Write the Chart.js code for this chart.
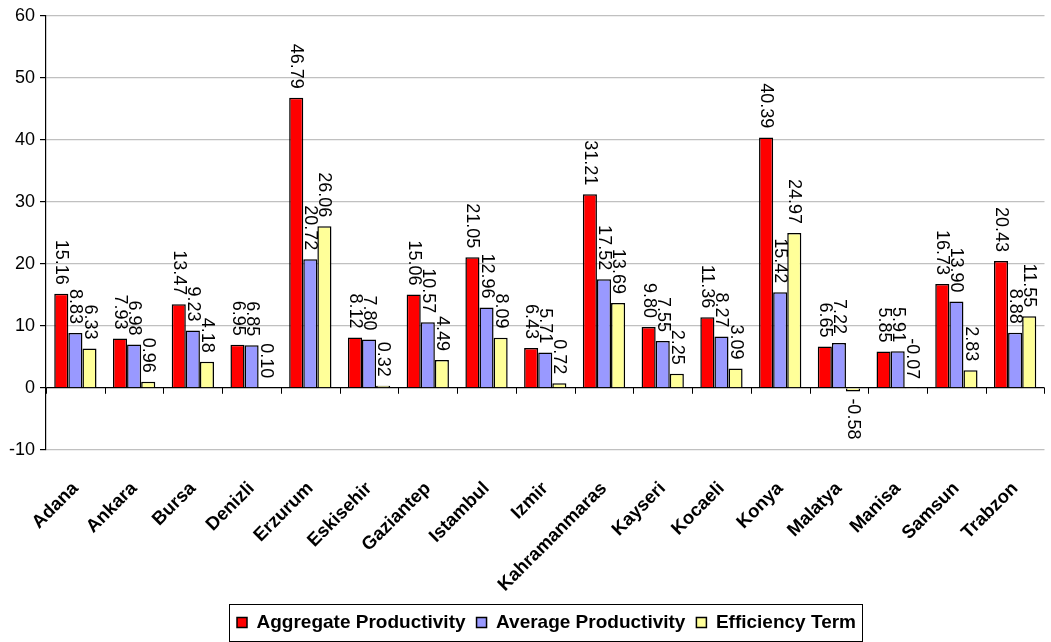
<!DOCTYPE html>
<html>
<head>
<meta charset="utf-8">
<script src="https://cdn.jsdelivr.net/npm/chart.js@4"></script>
<style>
  html, body { margin: 0; padding: 0; background: #fff; }
  #wrap { width: 1051px; height: 642px; }
</style>
</head>
<body>
<div id="wrap"><canvas id="chart" width="1051" height="642"></canvas></div>
<script>
// Data
const cities = ['Adana', 'Ankara', 'Bursa', 'Denizli', 'Erzurum', 'Eskisehir', 'Gaziantep', 'Istambul', 'Izmir',
    'Kahramanmaras', 'Kayseri', 'Kocaeli', 'Konya', 'Malatya', 'Manisa', 'Samsun', 'Trabzon'];
const aggregateProductivity = [15.16, 7.93, 13.47, 6.95, 46.79, 8.12, 15.06, 21.05, 6.43, 31.21, 9.80, 11.36, 40.39, 6.65, 5.85, 16.73, 20.43];
const averageProductivity = [8.83, 6.98, 9.23, 6.85, 20.72, 7.80, 10.57, 12.96, 5.71, 17.52, 7.55, 8.27, 15.42, 7.22, 5.91, 13.90, 8.88];
const efficiencyTerm = [6.33, 0.96, 4.18, 0.10, 26.06, 0.32, 4.49, 8.09, 0.72, 13.69, 2.25, 3.09, 24.97, -0.58, -0.07, 2.83, 11.55];
const yTicks = [-10, 0, 10, 20, 30, 40, 50, 60];

const FONT = '"Liberation Sans", Arial, sans-serif';
const LEGEND_SHIFT = 22; // legend sits a bit right of centre in the original

// Rotated value labels above (or below) each bar, plus x tick marks on the zero line
const barLabels = {
    id: 'barLabels',
    afterLayout(chart) {
        const lg = chart.legend;
        lg.left += LEGEND_SHIFT;
        lg.right += LEGEND_SHIFT;
        lg.legendHitBoxes.forEach(b => { b.left += LEGEND_SHIFT; });
    },
    afterDatasetsDraw(chart) {
        const ctx = chart.ctx;
        ctx.save();
        ctx.font = '18px ' + FONT;
        ctx.fillStyle = '#000';
        ctx.textBaseline = 'middle';
        chart.data.datasets.forEach((ds, di) => {
            const meta = chart.getDatasetMeta(di);
            meta.data.forEach((bar, i) => {
                const v = ds.data[i];
                // tiny negative bars get their label above, like the original
                const below = v < -0.1;
                ctx.save();
                ctx.translate(bar.x, below ? bar.y + 7 : Math.min(bar.y, bar.base) - 9);
                ctx.rotate(Math.PI / 2);
                ctx.textAlign = below ? 'left' : 'right';
                ctx.fillText(v.toFixed(2), 0, 0);
                ctx.restore();
            });
        });

        // category tick marks hanging from the zero line
        const xs = chart.scales.x, ys = chart.scales.y;
        const y0 = ys.getPixelForValue(0);
        const half = (xs.getPixelForTick(1) - xs.getPixelForTick(0)) / 2;
        ctx.strokeStyle = '#000';
        ctx.lineWidth = 1;
        ctx.beginPath();
        for (let i = 0; i <= cities.length; i++) {
            const x = Math.round(xs.getPixelForTick(Math.min(i, cities.length - 1)) + (i < cities.length ? -half : half)) + 0.5;
            ctx.moveTo(x, y0);
            ctx.lineTo(x, y0 + 6);
        }
        ctx.stroke();
        ctx.restore();
    },
    afterDraw(chart) {
        // border around the legend
        const boxes = chart.legend.legendHitBoxes;
        if (!boxes || !boxes.length) return;
        const left = Math.min(...boxes.map(b => b.left)) - 8;
        const right = Math.max(...boxes.map(b => b.left + b.width)) + 6;
        const top = Math.min(...boxes.map(b => b.top)) - 9;
        const bottom = Math.max(...boxes.map(b => b.top + b.height)) + 9;
        const ctx = chart.ctx;
        ctx.save();
        ctx.strokeStyle = '#000';
        ctx.lineWidth = 1;
        ctx.strokeRect(Math.round(left) + 0.5, Math.round(top) + 0.5, Math.round(right - left), Math.round(bottom - top));
        ctx.restore();
    }
};

const ctx = document.getElementById('chart').getContext('2d');
new Chart(ctx, {
    type: 'bar',
    data: {
        labels: cities,
        datasets: [
            { label: 'Aggregate Productivity', data: aggregateProductivity, backgroundColor: '#FF0000', borderColor: '#000', borderWidth: 1.5 },
            { label: 'Average Productivity', data: averageProductivity, backgroundColor: '#9999FF', borderColor: '#000', borderWidth: 1.5 },
            { label: 'Efficiency Term', data: efficiencyTerm, backgroundColor: '#FFFF99', borderColor: '#000', borderWidth: 1.5 },
        ],
    },
    options: {
        responsive: false,
        animation: false,
        layout: { padding: { top: 4, right: 6, left: 4, bottom: 0 } },
        datasets: {
            bar: { categoryPercentage: 0.72, barPercentage: 1.0 }
        },
        plugins: {
            legend: {
                position: 'bottom',
                labels: {
                    color: '#000',
                    font: { family: FONT, size: 19, weight: 'bold' },
                    boxWidth: 10,
                    boxHeight: 10,
                    padding: 11,
                },
            },
            tooltip: { enabled: false },
        },
        scales: {
            x: {
                grid: { display: false },
                border: { display: false },
                afterFit: (axis) => { axis.height -= 14; },
                ticks: {
                    color: '#000',
                    font: { family: FONT, size: 18.5, weight: 'bold' },
                    maxRotation: 45,
                    minRotation: 45,
                    autoSkip: false,
                    padding: 20,
                },
            },
            y: {
                min: -10,
                max: 60,
                afterBuildTicks: (axis) => { axis.ticks = yTicks.map(v => ({ value: v })); },
                grid: {
                    color: (c) => c.tick && c.tick.value === 0 ? '#000' : '#c0c0c0',
                    tickColor: '#000',
                    tickLength: 6,
                    lineWidth: 1.2,
                },
                border: { display: true, color: '#000', width: 1.2 },
                ticks: {
                    color: '#000',
                    font: { family: FONT, size: 18 },
                    padding: 5,
                },
            },
        },
    },
    plugins: [barLabels],
});
</script>
</body>
</html>
